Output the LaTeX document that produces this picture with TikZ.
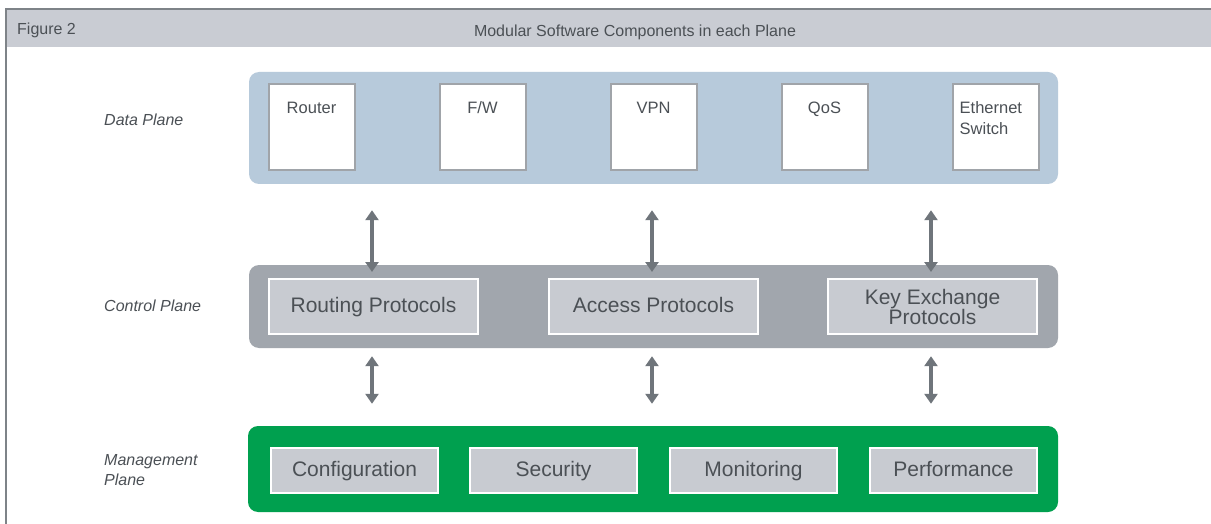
\documentclass[tikz,border=0pt]{standalone}
\usepackage{fontspec}
\setmainfont{Liberation Sans}
\usetikzlibrary{arrows.meta}
\definecolor{txt}{HTML}{4B5055}
\definecolor{hdr}{HTML}{C9CCD3}
\definecolor{frame}{HTML}{7E8388}
\definecolor{dpfill}{HTML}{B7CADB}
\definecolor{dpline}{HTML}{A0A4A9}
\definecolor{cpfill}{HTML}{A1A6AD}
\definecolor{boxfill}{HTML}{C8CBD1}
\definecolor{mpfill}{HTML}{00A04F}
\definecolor{arrc}{HTML}{6F757B}
\tikzset{
  plane/.style={rounded corners=10pt, inner sep=0pt},
  dbox/.style={draw=dpline, fill=white, line width=2pt, minimum width=86pt, minimum height=86pt, inner sep=0pt},
  gbox/.style={draw=white, fill=boxfill, line width=2pt, inner sep=0pt, text=txt, align=center,
    font=\fontsize{21}{21}\selectfont, text height=15pt, text depth=4pt},
  dlabel/.style={text=txt, font=\fontsize{16.5}{21}\selectfont, inner sep=0pt},
  plabel/.style={text=txt, font=\fontsize{16}{20}\selectfont\itshape, anchor=west, align=left, inner sep=0pt},
  arr/.style={draw=arrc, line width=3.2pt, {Triangle[width=13pt,length=10pt]}-{Triangle[width=13pt,length=10pt]}}
}
\begin{document}
\begin{tikzpicture}[x=1pt,y=-1pt]
\useasboundingbox (0,0) rectangle (1211,524);
\fill[white] (0,0) rectangle (1211,524);
% frame and header
\fill[hdr] (7,10) rectangle (1211,47);
\draw[frame, line width=2pt] (6,526) -- (6,9) -- (1212,9);
\node[anchor=west, text=txt, font=\fontsize{16}{18}\selectfont, inner sep=0pt] (fig) at (17,30) {Figure 2};
\node[text=txt, font=\fontsize{16}{18}\selectfont, inner sep=0pt] (title) at (635,32) {Modular Software Components in each Plane};

% planes
\node[plane, fill=dpfill, minimum width=809pt, minimum height=112pt] (dp) at (653.5,128) {};
\node[plane, fill=cpfill, minimum width=809pt, minimum height=83pt] (cp) at (653.5,306.5) {};
\node[plane, fill=mpfill, minimum width=810pt, minimum height=86pt] (mp) at (653,469) {};

% plane labels
\node[plabel] (ldp) at (104,120) {\textit{Data Plane}};
\node[plabel] (lcp) at (104,306) {\textit{Control Plane}};
\node[plabel, text width=120pt] (lmp) at (104,470.5) {\textit{Management}\\\textit{Plane}};

% data plane boxes
\node[dbox, label={[dlabel, anchor=north, yshift=-18pt]north:Router}] (router) at (311.5,127.5) {};
\node[dbox, label={[dlabel, anchor=north, yshift=-18pt]north:F/W}] (fw) at (482.5,127.5) {};
\node[dbox, label={[dlabel, anchor=north, yshift=-18pt]north:VPN}] (vpn) at (653.5,127.5) {};
\node[dbox, label={[dlabel, anchor=north, yshift=-18pt]north:QoS}] (qos) at (824.5,127.5) {};
\node[dbox, label={[dlabel, anchor=north west, align=left, xshift=8pt, yshift=-18pt]north west:Ethernet\\Switch}] (eth) at (995.5,127.5) {};

% control plane boxes
\node[gbox, minimum width=209pt, minimum height=55pt] (rp) at (373.5,306.5) {Routing Protocols};
\node[gbox, minimum width=209pt, minimum height=55pt] (ap) at (653.5,306.5) {Access Protocols};
\node[gbox, minimum width=209pt, minimum height=55pt, text height=, text depth=] (kp) at (932.5,306.5) {Key Exchange\\[-1pt]Protocols};

% management plane boxes
\node[gbox, minimum width=167pt, minimum height=45pt] (conf) at (354.5,470.5) {Configuration};
\node[gbox, minimum width=167pt, minimum height=45pt] (sec) at (553.5,470.5) {Security};
\node[gbox, minimum width=167pt, minimum height=45pt] (mon) at (753.5,470.5) {Monitoring};
\node[gbox, minimum width=167pt, minimum height=45pt] (perf) at (953.5,470.5) {Performance};

% arrows
\foreach \b in {rp,ap,kp}{
  \draw[arr, shorten <=26pt, shorten >=6pt] ([xshift=-1.5pt]\b.north |- dp.south) -- ([xshift=-1.5pt]\b.north);
  \draw[arr, shorten <=8pt, shorten >=22pt] ([xshift=-1.5pt]\b.south |- cp.south) -- ([xshift=-1.5pt]\b.south |- mp.north);
}
\end{tikzpicture}
\end{document}
